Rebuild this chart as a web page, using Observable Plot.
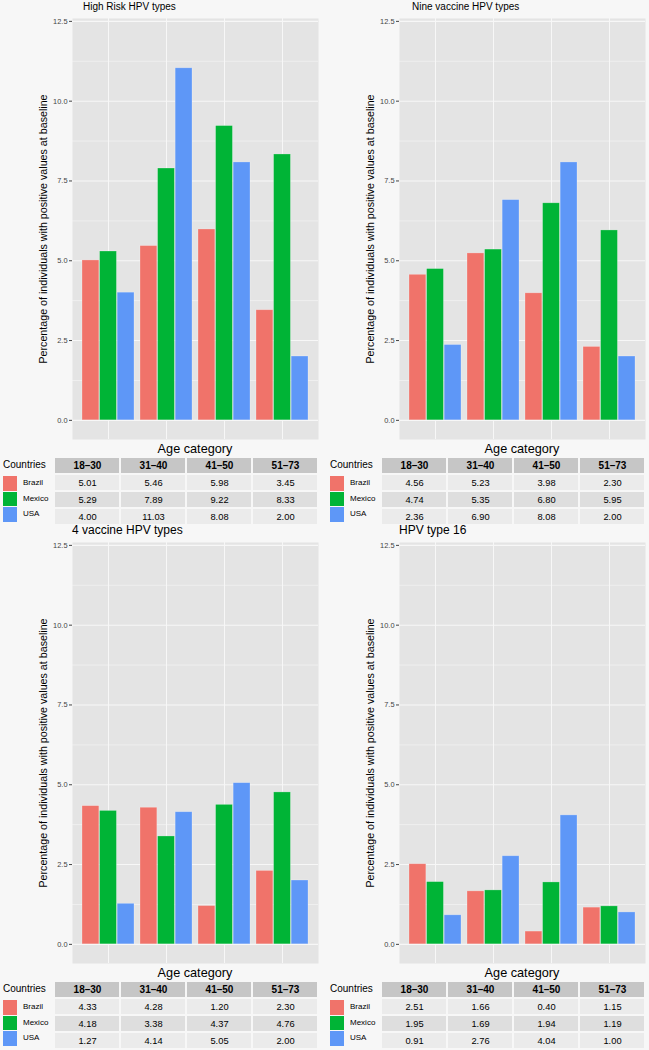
<!DOCTYPE html>
<html><head><meta charset="utf-8">
<script src="https://cdn.jsdelivr.net/npm/d3@7"></script>
<script src="https://cdn.jsdelivr.net/npm/@observablehq/plot@0.6"></script>
<style>
body{margin:0;background:#f7f7f7;font-family:"Liberation Sans",Arial,Helvetica,sans-serif;}
#root{position:relative;width:649px;height:1050px;overflow:hidden;background:#f7f7f7;}
.abs{position:absolute;white-space:nowrap;line-height:1;}
svg{overflow:visible;}
</style></head><body><div id="root"></div>
<script>
// ---------- data ----------
const ageCategories = ["18–30", "31–40", "41–50", "51–73"];
const countries = ["Brazil", "Mexico", "USA"];
const countryColors = ["#F0736A", "#00B436", "#5E97F7"];
const panelTitles = ["High Risk HPV types", "Nine vaccine HPV types", "4 vaccine HPV types", "HPV type 16"];
const yLabel = "Percentage of individuals with positive values at baseline";
const xLabel = "Age category";
const legendTitle = "Countries";

const highRiskBrazil = [5.01, 5.46, 5.98, 3.45];
const highRiskMexico = [5.29, 7.89, 9.22, 8.33];
const highRiskUSA    = [4.00, 11.03, 8.08, 2.00];

const nineBrazil = [4.56, 5.23, 3.98, 2.30];
const nineMexico = [4.74, 5.35, 6.80, 5.95];
const nineUSA    = [2.36, 6.90, 8.08, 2.00];

const fourBrazil = [4.33, 4.28, 1.20, 2.30];
const fourMexico = [4.18, 3.38, 4.37, 4.76];
const fourUSA    = [1.27, 4.14, 5.05, 2.00];

const hpv16Brazil = [2.51, 1.66, 0.40, 1.15];
const hpv16Mexico = [1.95, 1.69, 1.94, 1.19];
const hpv16USA    = [0.91, 2.76, 4.04, 1.00];

const yTicks = [0, 2.5, 5, 7.5, 10, 12.5];
const yMinorTicks = [1.25, 3.75, 6.25, 8.75, 11.25];

// ---------- layout ----------
const FONT = '"Liberation Sans", Arial, Helvetica, sans-serif';
const panels = [
  {title: panelTitles[0], series: [highRiskBrazil, highRiskMexico, highRiskUSA], left: 0,   top: 0,   titleX: 83,  titleSize: 10},
  {title: panelTitles[1], series: [nineBrazil, nineMexico, nineUSA],             left: 327, top: 0,   titleX: 85,  titleSize: 10},
  {title: panelTitles[2], series: [fourBrazil, fourMexico, fourUSA],             left: 0,   top: 524, titleX: 72,  titleSize: 12},
  {title: panelTitles[3], series: [hpv16Brazil, hpv16Mexico, hpv16USA],          left: 327, top: 524, titleX: 72,  titleSize: 12}
];

const root = document.getElementById("root");
function addText(txt, x, baseline, size, opts = {}) {
  const d = document.createElement("div");
  d.className = "abs";
  d.textContent = txt;
  d.style.fontSize = size + "px";
  d.style.top = (baseline - 0.8465 * size) + "px";
  if (opts.center) { d.style.left = x + "px"; d.style.transform = "translateX(-50%)"; }
  else d.style.left = x + "px";
  if (opts.weight) d.style.fontWeight = opts.weight;
  d.style.color = opts.color || "#000";
  root.appendChild(d);
  return d;
}
function place(node, x, y) {
  node.style.position = "absolute";
  node.style.left = x + "px";
  node.style.top = y + "px";
  root.appendChild(node);
}

const PLOT_W = 318, PLOT_L = 72;
const panelInner = PLOT_W - PLOT_L;
const step = panelInner / 4.2;
const bw = step * 0.9;
const third = bw / 3;

for (const p of panels) {
  // title
  addText(p.title, p.left + p.titleX, p.top + 10, p.titleSize);

  // bar chart
  const barMarks = countries.map((c, k) => {
    const data = ageCategories.map((a, i) => ({age: a, value: p.series[k][i]}));
    return Plot.barY(data, {
      x: "age", y: "value", fill: countryColors[k],
      insetLeft: k * third, insetRight: (2 - k) * third,
      stroke: "#ffffff", strokeOpacity: 0.35, strokeWidth: 0.7
    });
  });
  const chart = Plot.plot({
    width: PLOT_W, height: 440,
    marginLeft: PLOT_L, marginRight: 0, marginTop: 18, marginBottom: 1,
    style: {background: "transparent", fontFamily: FONT, fontSize: "7.4px", color: "#444"},
    x: {type: "band", domain: ageCategories, paddingInner: 0.1, paddingOuter: 0.15, axis: null},
    y: {domain: [-0.6, 12.59], ticks: yTicks, tickFormat: d => d.toFixed(1), tickSize: 3, tickPadding: 2, label: null},
    marks: [
      Plot.frame({fill: "#e4e4e4", stroke: null}),
      Plot.ruleY(yMinorTicks, {stroke: "#f7f7f7", strokeWidth: 0.55}),
      Plot.ruleY(yTicks, {stroke: "#f7f7f7", strokeWidth: 1.07}),
      Plot.ruleX(ageCategories, {x: d => d, stroke: "#f7f7f7", strokeWidth: 1.07}),
      ...barMarks,
      Plot.text([yLabel], {frameAnchor: "left", rotate: -90, dx: -29, textAnchor: "middle", lineAnchor: "middle", fontSize: 10.7, fill: "#000", text: d => d})
    ]
  });
  place(chart, p.left, p.top);

  // x axis title
  addText(xLabel, p.left + 195, p.top + 454, 12.7, {center: true});

  // table
  const rows = [];
  countries.forEach((c, k) => ageCategories.forEach((a, i) => rows.push({country: c, age: a, value: p.series[k][i]})));
  const rowFills = {Brazil: "#ebebeb", Mexico: "#dedede", USA: "#ebebeb"};
  const table = Plot.plot({
    width: 263, height: 67, margin: 0,
    style: {background: "transparent", fontFamily: FONT},
    x: {type: "band", domain: ageCategories, paddingInner: 0.03, paddingOuter: 0, axis: null},
    y: {type: "band", domain: ["header", ...countries], paddingInner: 0.1, paddingOuter: 0, axis: null},
    color: {type: "identity"},
    marks: [
      Plot.cell(ageCategories, {x: d => d, y: () => "header", fill: "#c6c6c6"}),
      Plot.cell(rows, {x: "age", y: "country", fill: d => rowFills[d.country]}),
      Plot.text(ageCategories, {x: d => d, y: () => "header", text: d => d, fontWeight: "bold", fontSize: 10, fill: "#000"}),
      Plot.text(rows, {x: "age", y: "country", text: d => d.value.toFixed(2), fontSize: 9.3, fill: "#000"})
    ]
  });
  place(table, p.left + 55, p.top + 458);

  // legend
  addText(legendTitle, p.left + 3, p.top + 468, 10);
  const swTops = [476, 491.5, 507];
  countries.forEach((c, k) => {
    const s = document.createElement("div");
    s.style.width = "14px"; s.style.height = "14.5px"; s.style.background = countryColors[k];
    place(s, p.left + 3, p.top + swTops[k]);
    addText(c, p.left + 23, p.top + swTops[k] + 10.2, 8);
  });
}
</script></body></html>
